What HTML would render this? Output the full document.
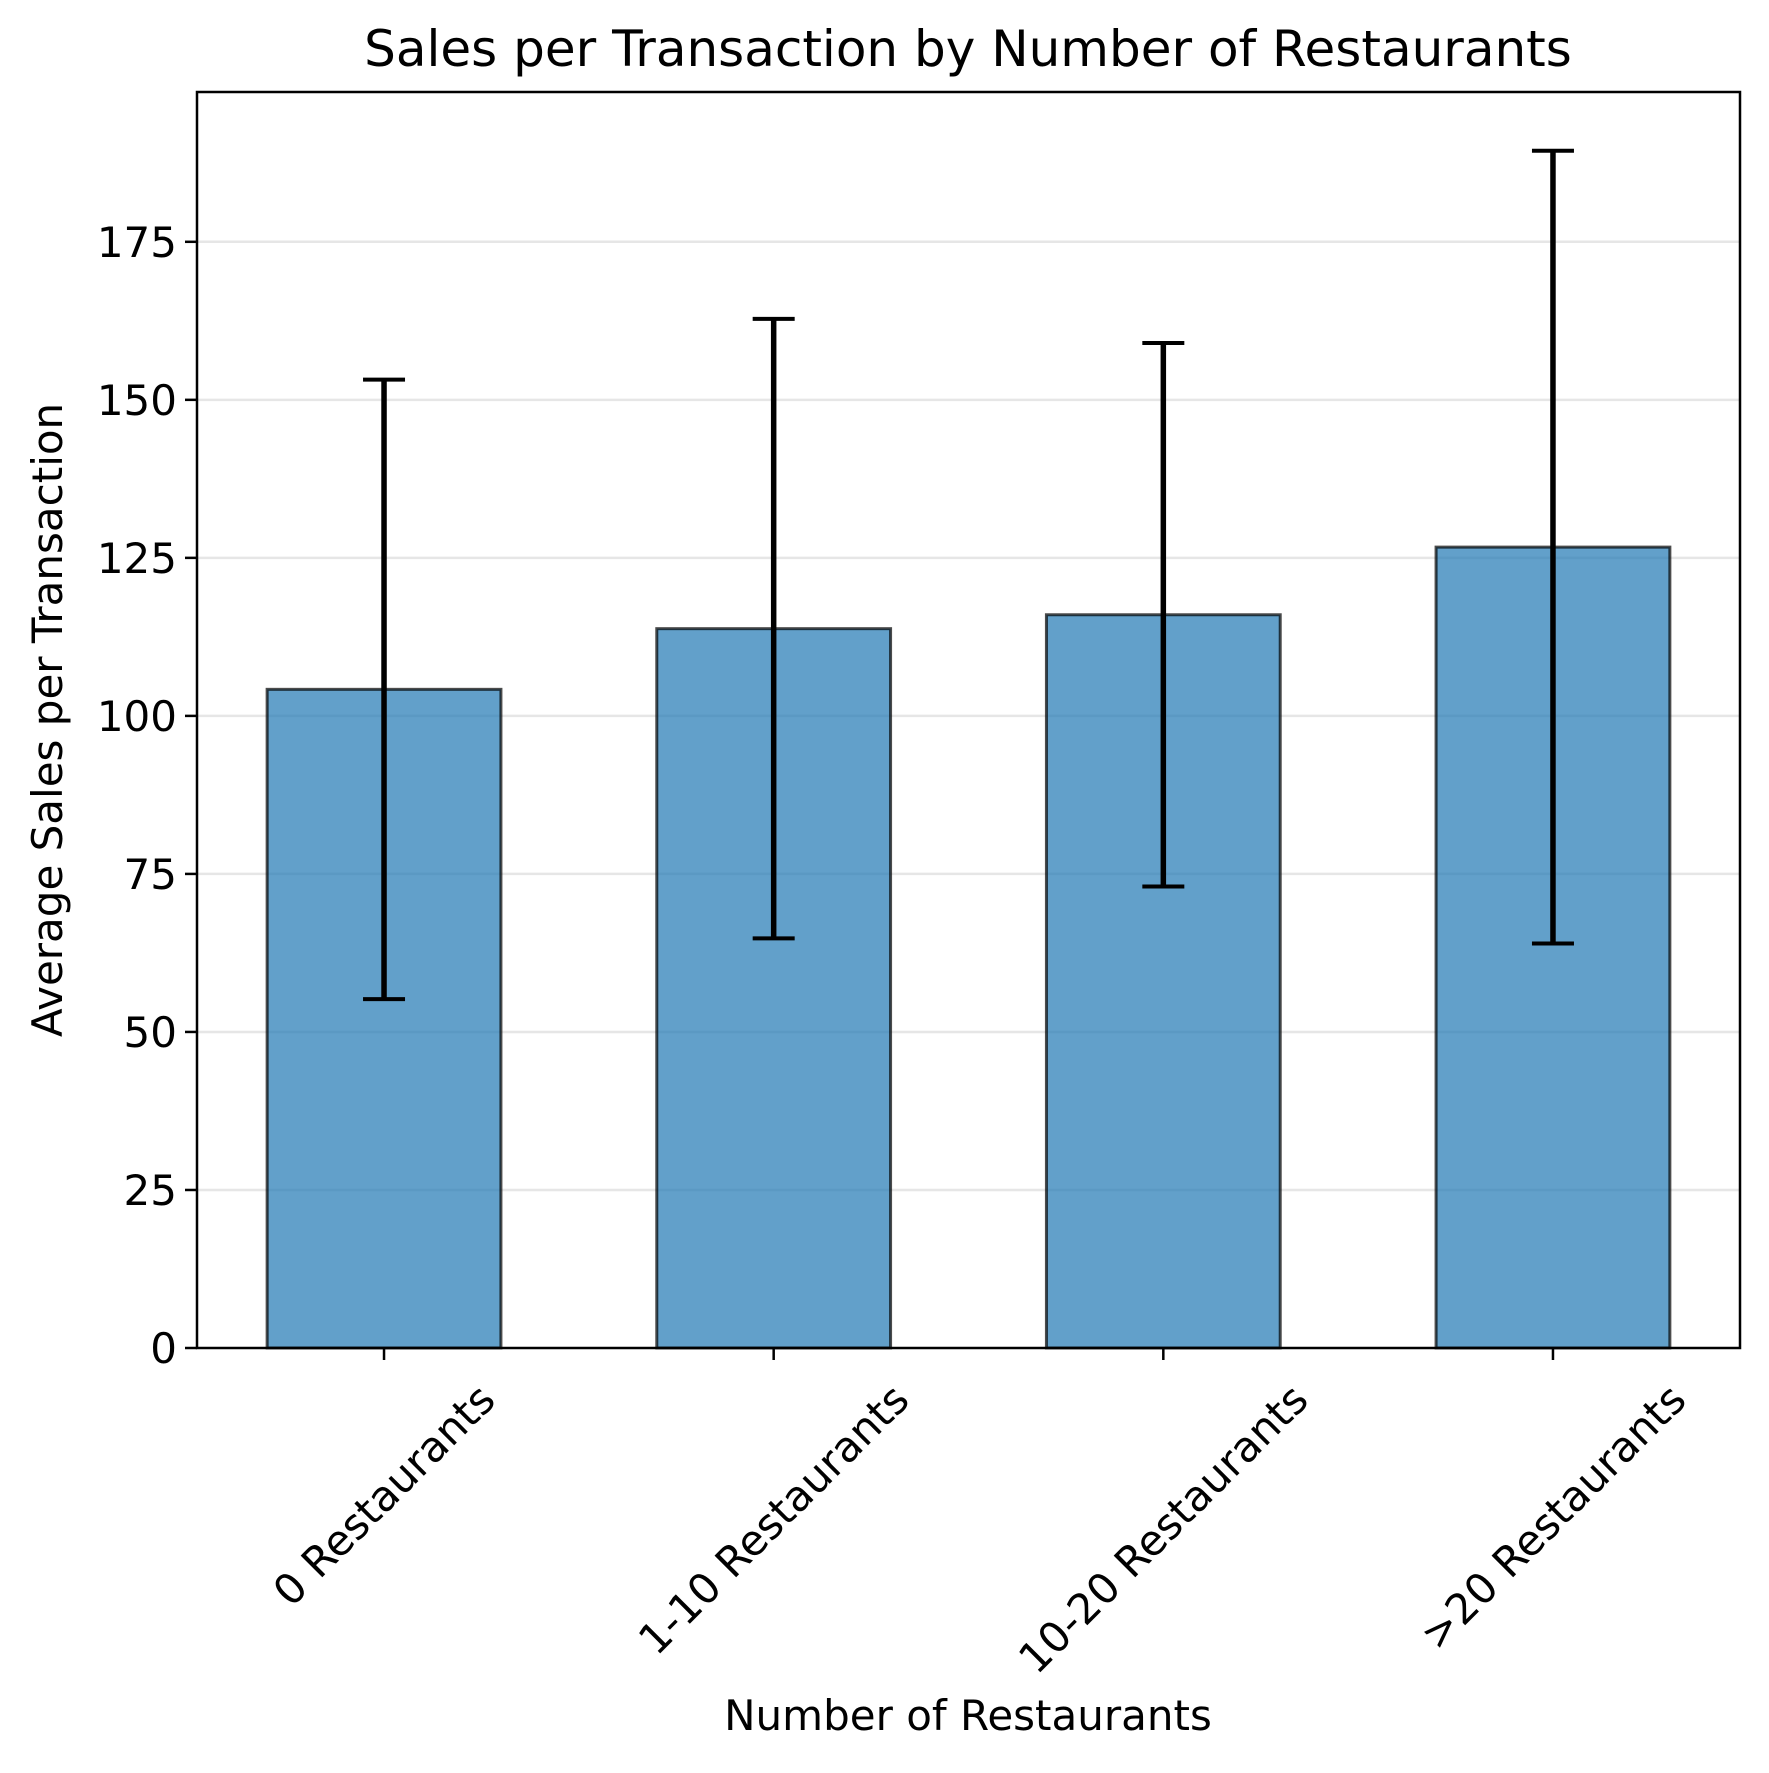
<!DOCTYPE html>
<html><head><meta charset="utf-8"><style>
body{margin:0;background:#fff;}
svg text{font-family:"DejaVu Sans","Liberation Sans",sans-serif;fill:#000;}
</style></head><body>
<svg id="chart" width="1769" height="1768" viewBox="0 0 1769 1768" xmlns="http://www.w3.org/2000/svg">
<rect width="1769" height="1768" fill="#fff"/>
<g id="grid"></g>
<g id="bars"></g>
<g id="errs"></g>
<rect x="197" y="92" width="1543" height="1256" fill="none" stroke="#000" stroke-width="2.5"/>
<g id="yticks"></g>
<g id="xticks"></g>
<text x="968" y="66" font-size="50" text-anchor="middle">Sales per Transaction by Number of Restaurants</text>
<text x="968" y="1730" font-size="42" text-anchor="middle">Number of Restaurants</text>
<text transform="translate(62,720) rotate(-90)" font-size="42" text-anchor="middle">Average Sales per Transaction</text>
</svg>
<script>
const categories = ["0 Restaurants","1-10 Restaurants","10-20 Restaurants",">20 Restaurants"];
const means = [104.2, 113.8, 116.0, 126.7];
const errors = [49.0, 49.0, 43.0, 62.7];
const yTicks = [0,25,50,75,100,125,150,175];

const NS="http://www.w3.org/2000/svg";
const L=197,R=1740,T=92,B=1348;
const xMin=-0.48,xMax=3.48,yMin=0,yMax=198.7;
const xs=i=>L+(i-xMin)/(xMax-xMin)*(R-L);
const ys=v=>B-(v-yMin)/(yMax-yMin)*(B-T);
function mk(tag,attrs,parent){const e=document.createElementNS(NS,tag);for(const k in attrs)e.setAttribute(k,attrs[k]);parent.appendChild(e);return e;}
const grid=document.getElementById('grid'),bars=document.getElementById('bars'),errs=document.getElementById('errs'),yt=document.getElementById('yticks'),xt=document.getElementById('xticks');

yTicks.forEach(v=>{
  const y=ys(v);
  if(v>0){const g=mk('line',{x1:L,x2:R,y1:y,y2:y,stroke:'#e6e6e6','stroke-width':2.5},grid);
  
  }
  const t=mk('line',{x1:L-12,x2:L,y1:y,y2:y,stroke:'#000','stroke-width':2.5},yt);
  
  
  const tx=mk('text',{x:L-20,y:y+15,'font-size':42,'text-anchor':'end'},yt);
  tx.textContent=v;
  
  
});

categories.forEach((c,i)=>{
  const cx=xs(i),w=0.6/(xMax-xMin)*(R-L);
  const b=mk('rect',{x:cx-w/2,y:ys(means[i]),width:w,height:ys(0)-ys(means[i]),fill:'#1f77b4','fill-opacity':0.7,stroke:'#000','stroke-opacity':0.7,'stroke-width':3},bars);
  
  
  const top=ys(means[i]+errors[i]),bot=ys(means[i]-errors[i]);
  const eg=mk('g',{stroke:'#000','stroke-width':5.5},errs);
  
  
  mk('line',{x1:cx,x2:cx,y1:top,y2:bot},eg);
  mk('line',{x1:cx-21,x2:cx+21,y1:top,y2:top,'stroke-width':4},eg);
  mk('line',{x1:cx-21,x2:cx+21,y1:bot,y2:bot,'stroke-width':4},eg);
  const t=mk('line',{x1:cx,x2:cx,y1:B,y2:B+12,stroke:'#000','stroke-width':2.5},xt);
  
  
  const tx=mk('text',{'font-size':42,'text-anchor':'middle','dominant-baseline':'central'},xt);
  tx.textContent=c;
  
  
  const len=tx.getComputedTextLength();
  const half=(len+42)*0.7071/2;
  const cy=1385+half-8;
  tx.setAttribute('x',cx);tx.setAttribute('y',cy);
  tx.setAttribute('transform','rotate(-45 '+cx+' '+cy+')');
});
</script>
</body></html>
